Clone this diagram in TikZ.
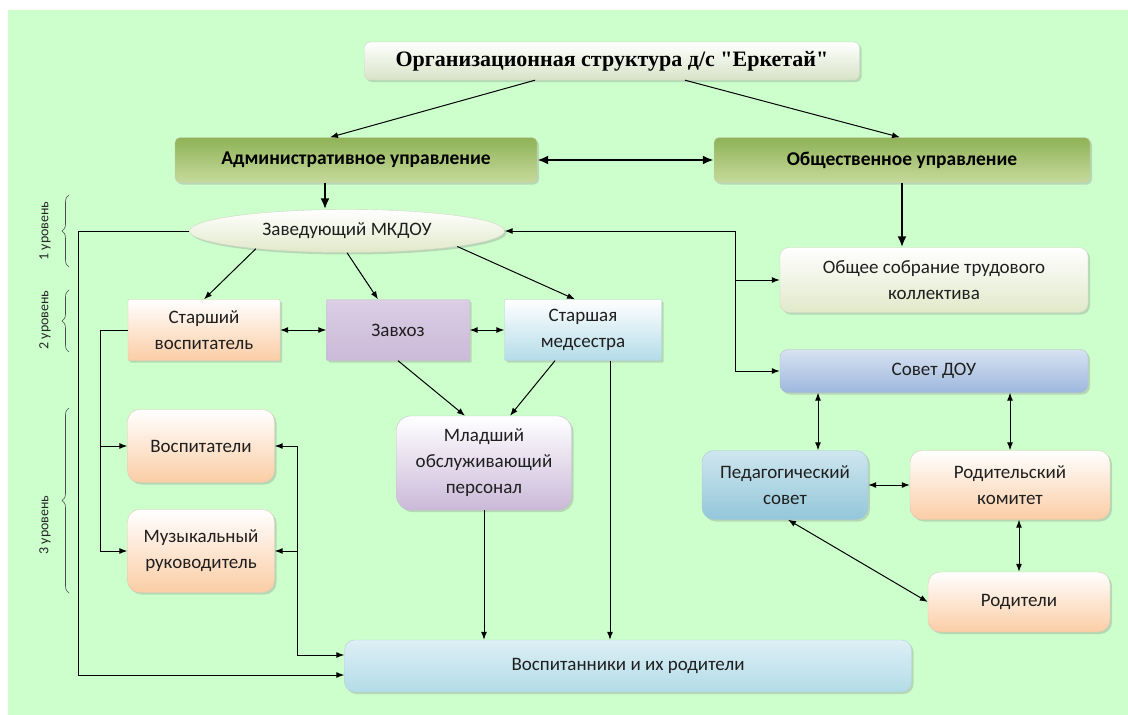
\documentclass[tikz,border=0pt]{standalone}
\usepackage{fontspec}
\setmainfont{Carlito}
\newfontfamily\titlefont{Liberation Serif}
\usetikzlibrary{arrows.meta,shapes.geometric,shadows,decorations.pathreplacing}

\begin{document}
\begin{tikzpicture}[x=1pt, y=-1pt,
    >={Latex[length=8pt,width=6pt]},
    box/.style={rectangle, rounded corners=5pt, inner sep=2pt, align=center,
        text=black!88, font=\fontsize{19}{26}\selectfont, draw=#1!80!black!60,
        top color=white, bottom color=#1,
        drop shadow={opacity=0.3, shadow xshift=2pt, shadow yshift=-2pt}},
    headbox/.style={box=hdgreen, top color=hdtop, bottom color=hdgreen,
        font=\fontsize{19.5}{26}\selectfont\bfseries, text=black},
    link/.style={->, line width=1pt},
    twolink/.style={<->, line width=1pt},
    biglink/.style={line width=2.6pt, arrows={-Latex[length=11pt,width=9pt]}},
    level/.style={rotate=90, font=\fontsize{14}{16}\selectfont, text=black!85},
    lbrace/.style={decorate, decoration={brace, amplitude=7pt}, line width=0.6pt, black!70}]
    \definecolor{bggreen}{HTML}{CCFFCC}
    \definecolor{hdtop}{HTML}{8FB257}
    \definecolor{hdgreen}{HTML}{C6DA9C}
    \definecolor{titlegrey}{HTML}{D8E3C6}
    \definecolor{peach}{HTML}{FBCDA5}
    \definecolor{lavender}{HTML}{CBB9D9}
    \definecolor{skyblue}{HTML}{B3DCE8}
    \definecolor{steelblue}{HTML}{9DB8DD}
    \definecolor{olivepale}{HTML}{E1E9C9}
    \definecolor{tealblue}{HTML}{93C7DA}
    %\draw[help lines] (0,0) grid[step=50] (1128,715);
    \useasboundingbox (0,0) rectangle (1128,715);
    \fill[bggreen] (8,10) rectangle (1128,715);

    % top
    \node[box=titlegrey, minimum width=495pt, minimum height=38pt,
        font=\fontsize{22}{24}\selectfont\titlefont\bfseries, text=black] (title) at (612,61)
        {Организационная структура д/с "Еркетай"};
    \node[headbox, minimum width=362pt, minimum height=45pt] (adm) at (356,160) {Административное управление};
    \node[headbox, minimum width=376pt, minimum height=45pt] (obsh) at (902,160) {Общественное управление};

    \node[box=olivepale, ellipse, inner sep=0pt, minimum width=315pt, minimum height=43pt] (zaved) at (347,231) {Заведующий МКДОУ};
    \node[box=olivepale, rounded corners=9pt, minimum width=308pt, minimum height=65pt] (sobr) at (934,280) {Общее собрание трудового\\коллектива};
    \node[box=steelblue, top color=steelblue!40, rounded corners=8pt, minimum width=308pt, minimum height=43pt] (sovet) at (934,371) {Совет ДОУ};

    % 2 level
    \node[box=peach, rounded corners=1pt, minimum width=152pt, minimum height=61pt] (stv) at (204,330) {Старший\\воспитатель};
    \node[box=lavender, top color=lavender!70, rounded corners=1pt, minimum width=143pt, minimum height=61pt] (zavhoz) at (398,330) {Завхоз};
    \node[box=skyblue, rounded corners=1pt, minimum width=157pt, minimum height=61pt] (meds) at (583,330) {Старшая\\медсестра};

    % 3 level
    \node[box=peach, rounded corners=12pt, minimum width=147pt, minimum height=73pt] (vosp) at (201,446) {Воспитатели};
    \node[box=peach, rounded corners=12pt, minimum width=147pt, minimum height=83pt] (muz) at (201,551) {Музыкальный\\руководитель};
    \node[box=lavender, rounded corners=14pt, minimum width=175pt, minimum height=94pt] (mlad) at (484,463) {Младший\\обслуживающий\\персонал};
    \node[box=skyblue, top color=skyblue!45, rounded corners=10pt, minimum width=567pt, minimum height=52pt] (deti) at (628,666) {Воспитанники и их родители};

    % right
    \node[box=tealblue, top color=tealblue!45, rounded corners=12pt, minimum width=166pt, minimum height=69pt] (ped) at (785,485) {Педагогический\\совет};
    \node[box=peach, rounded corners=12pt, minimum width=200pt, minimum height=69pt] (rodkom) at (1010,485) {Родительский\\комитет};
    \node[box=peach, rounded corners=12pt, minimum width=182pt, minimum height=60pt] (rodit) at (1019,602) {Родители};

    % levels
    \node[level] (lvl1) at (45,231) {1 уровень};
    \node[level] (lvl2) at (45,320) {2 уровень};
    \node[level] (lvl3) at (45,525) {3 уровень};
    \draw[lbrace] (69,267) -- (69,195);
    \draw[lbrace] (69,352) -- (69,290);
    \draw[lbrace] (69,593) -- (69,408);

    \coordinate (rbus) at (735,231);
    \coordinate (lbus) at (78,231);
    \coordinate (sbus) at (100,330);
    \coordinate (vbus) at (297,446);

    % connectors
    \draw[link] ([xshift=-77pt]title.south) -- ([xshift=-26pt]adm.north);
    \draw[link] ([xshift=73pt]title.south) -- ([xshift=-2pt]obsh.north);
    \draw[biglink, arrows={Latex[length=11pt,width=9pt]-Latex[length=11pt,width=9pt]}] (adm.east) -- (obsh.west);
    \draw[biglink] ([xshift=-31pt]adm.south) -- ([xshift=-31pt]adm.south |- zaved.north);
    \draw[biglink] (obsh.south) -- (obsh.south |- sobr.north);

    \draw[link] (rbus) -- (zaved.east);
    \draw[link] (rbus) |- (sobr.west);
    \draw[link] (rbus) |- (sovet.west);

    \draw[link] (zaved.191) -- (stv.north);
    \draw[link] (zaved.south) -- ([xshift=-20pt]zavhoz.north);
    \draw[link] (zaved.-8) -- ([xshift=-8pt]meds.north);
    \draw[twolink] (stv.east) -- (zavhoz.west);
    \draw[twolink] (zavhoz.east) -- (meds.west);

    \draw[link] (zaved.west) -- (lbus) |- ([yshift=-9pt]deti.west);
    \draw (stv.west) -- (sbus);
    \draw[link] (sbus) |- (vosp.west);
    \draw[link] (sbus) |- (muz.west);
    \draw[link] (vbus) -- (vosp.east);
    \draw[link] (vbus |- muz.east) -- (muz.east);
    \draw[link] (vbus) |- ([yshift=11pt]deti.west);

    \draw[link] (zavhoz.south) -- ([xshift=-19pt]mlad.north);
    \draw[link] ([xshift=-28pt]meds.south) -- ([xshift=26pt]mlad.north);
    \draw[link] (mlad.south) -- (mlad.south |- deti.north);
    \draw[link] ([xshift=27pt]meds.south) -- ([xshift=27pt]meds.south |- deti.north);

    \draw[twolink] ([xshift=33pt]ped.north) -- ([xshift=33pt]ped.north |- sovet.south);
    \draw[twolink] (rodkom.north) -- (rodkom.north |- sovet.south);
    \draw[twolink] (ped.east) -- (rodkom.west);
    \draw[twolink] (rodit.north) -- (rodit.north |- rodkom.south);
    \draw[twolink] ([xshift=3pt]ped.south) -- (rodit.west);
\end{tikzpicture}
\end{document}
